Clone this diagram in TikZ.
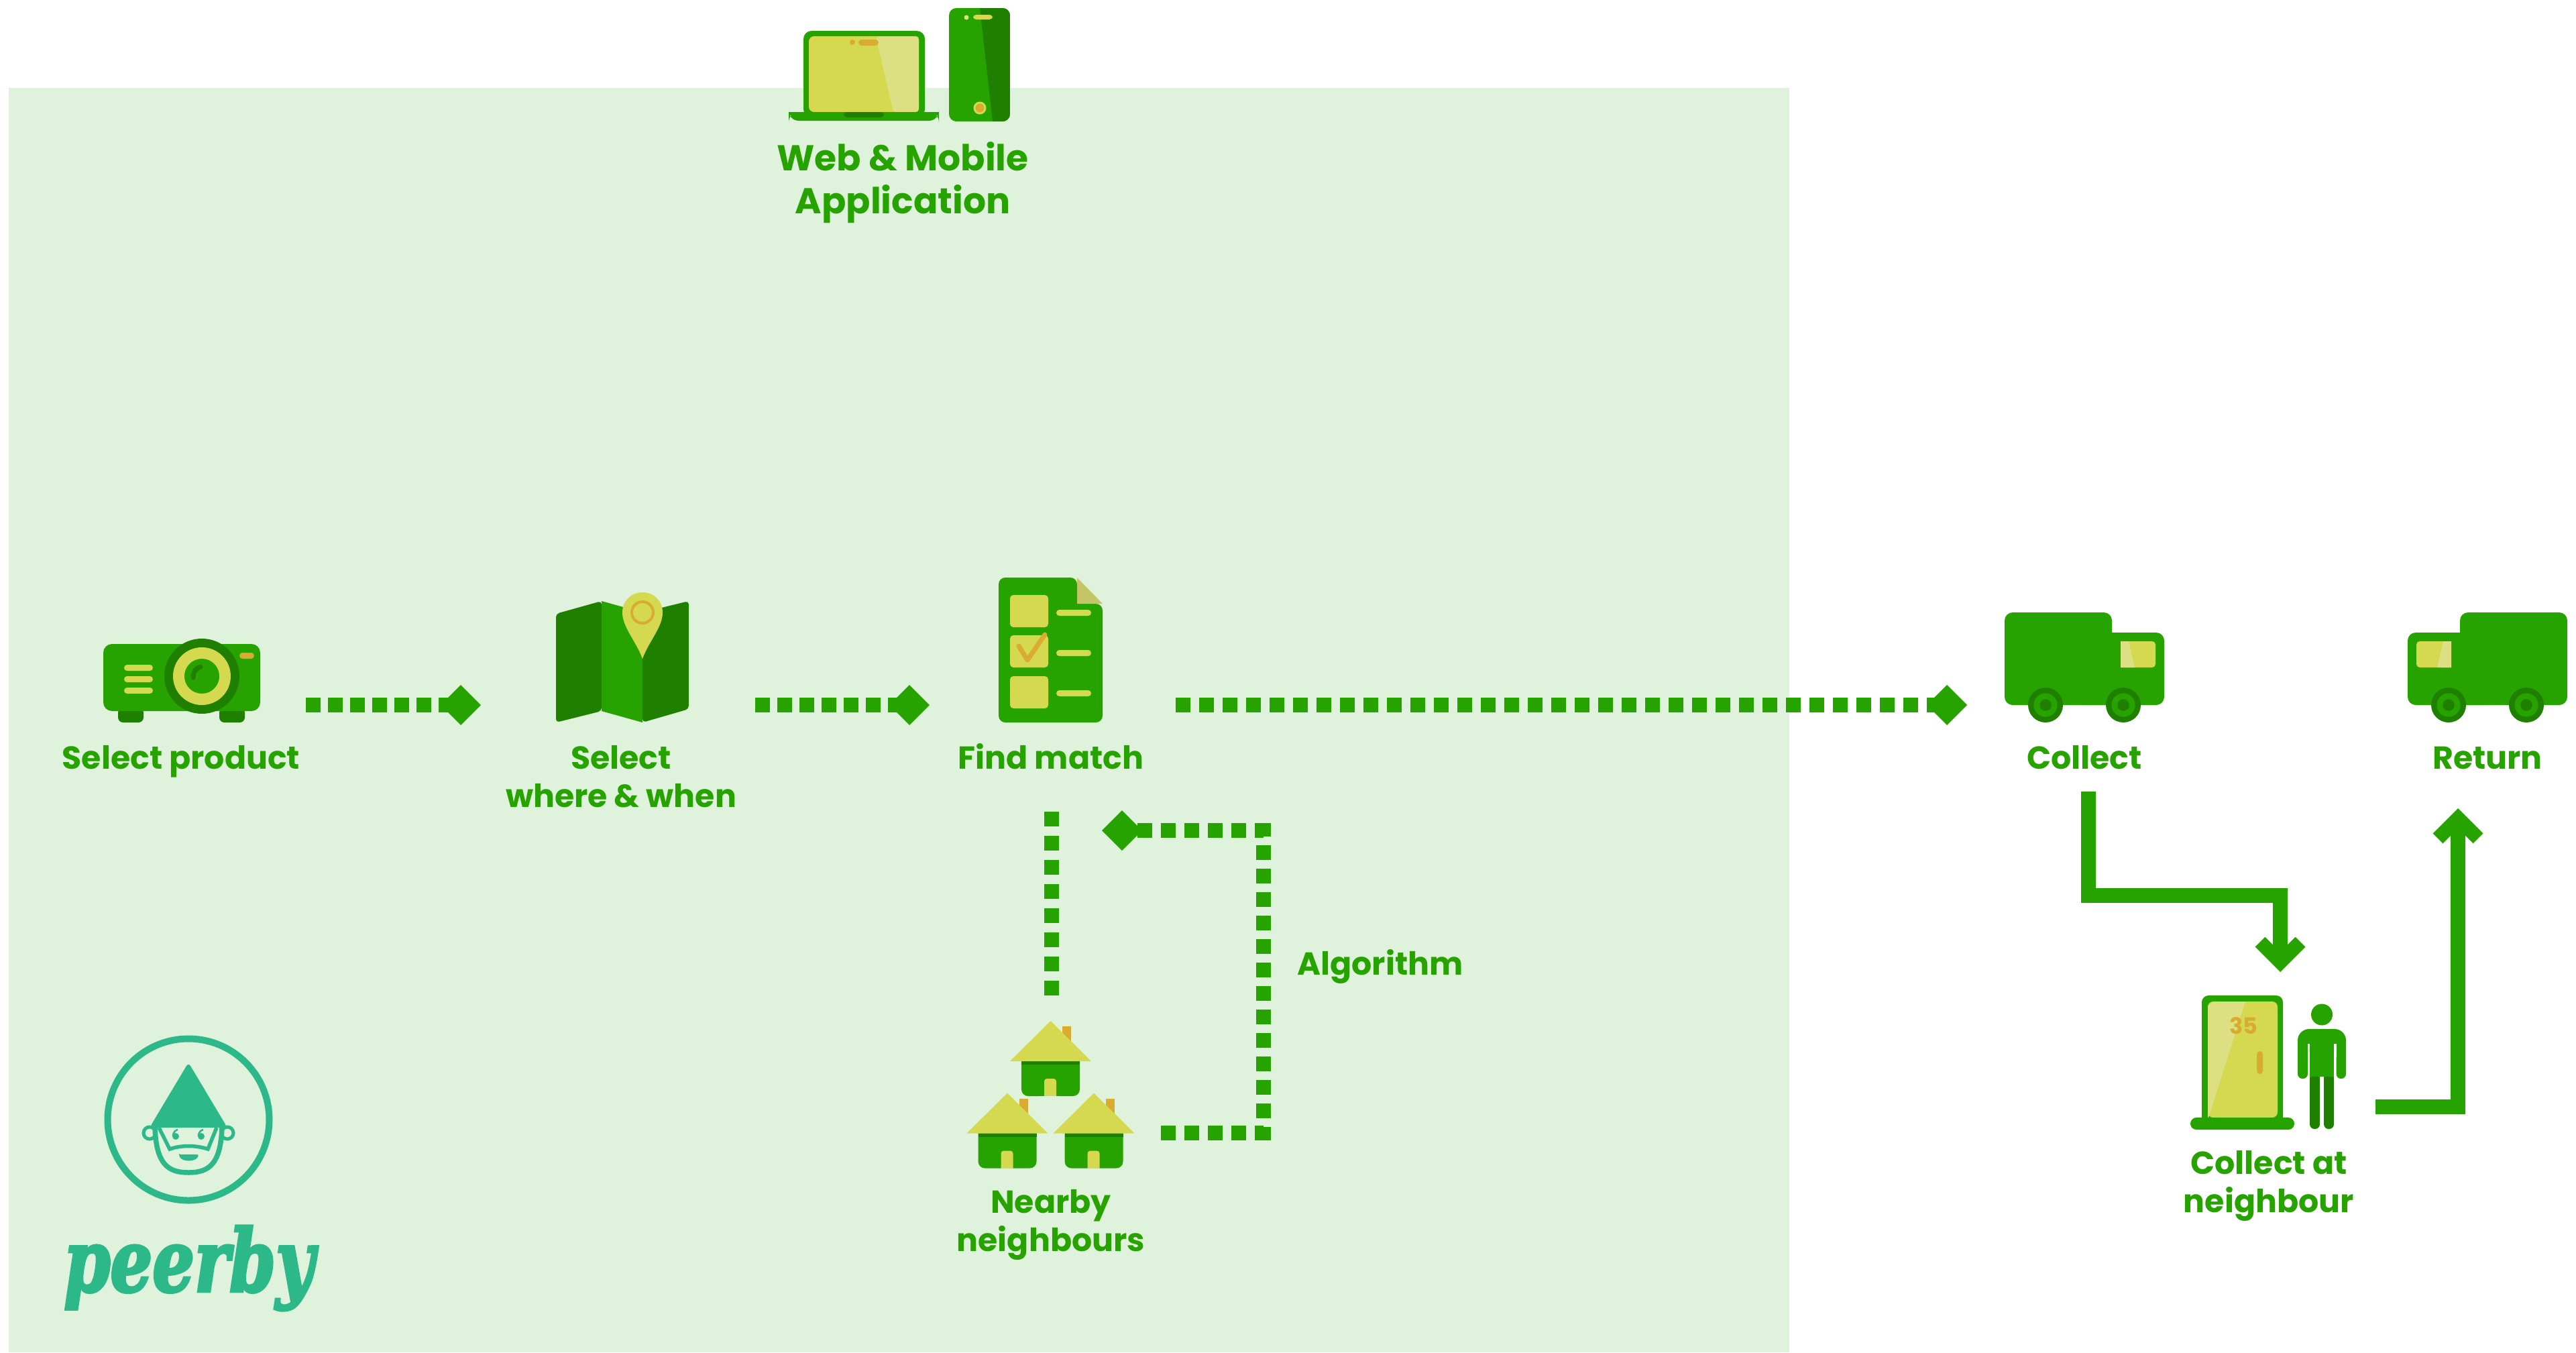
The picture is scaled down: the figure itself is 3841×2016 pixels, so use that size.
\documentclass[tikz,border=0pt]{standalone}
\usepackage{fontspec}
\setmainfont{Poppins}
\newfontfamily\logofont{DejaVu Serif}[FakeBold=3.5]
\usetikzlibrary{arrows.meta}
\definecolor{peergreen}{HTML}{27A300}
\definecolor{peerdark}{HTML}{1F8000}
\definecolor{peeryellow}{HTML}{D4D94F}
\definecolor{peerpale}{HTML}{DDE082}
\definecolor{peerfold}{HTML}{C4C566}
\definecolor{peerorange}{HTML}{D9AB30}
\definecolor{peerteal}{HTML}{2DB88A}
\definecolor{peerbg}{HTML}{DFF2DB}
\tikzset{
    lbl/.style = {text=peergreen,anchor=base,align=center,inner sep=0,font=\bfseries\fontsize{27}{32.4}\selectfont},
    biglbl/.style = {lbl,font=\bfseries\fontsize{30.5}{36}\selectfont},
    dotline/.style = {peergreen,line width=0.44cm,dash pattern=on 0.44cm off 0.22cm},
    dotarrow/.style = {dotline,-{Diamond[length=1.2cm,width=1.2cm]}},
    solidarrow/.style = {peergreen,line width=0.43cm,miter limit=4,-{Straight Barb[length=0.6cm,width=1.2cm,line width=0.42cm]}},
    bar/.style = {rounded corners=0.09cm}
}

\begin{document}
\begin{tikzpicture}[x=0.02cm,y=-0.02cm]
    \useasboundingbox (0,0) rectangle (3841,2016);
    \fill[peerbg] (13,131) rectangle (2668,2016);
    % Laptop
    \fill[peergreen,rounded corners=0.24cm] (1198,46) rectangle (1379,175);
    \fill[peeryellow,rounded corners=0.16cm] (1206,54) -- (1370,54) -- (1370,167) -- (1206,167) -- cycle;
    \fill[peerpale,bar] (1306,54) -- (1370,54) -- (1370,167) -- (1332,167) -- cycle;
    \fill[peergreen,rounded corners=0.3cm] (1176,167) -- (1176,180) -- (1400,180) -- (1400,167) -- cycle;
    \fill[peergreen] (1176,167) rectangle (1400,172);
    \fill[peerdark,rounded corners=0.1cm] (1258,167) -- (1258,175) -- (1318,175) -- (1318,167) -- cycle;
    \fill[peerorange] (1271,63) circle (4);
    \fill[peerorange,bar] (1280,59) rectangle (1310,68);
    % Phone
    \begin{scope}
        \clip[rounded corners=0.22cm] (1415,12) rectangle (1506,181);
        \fill[peergreen] (1415,12) rectangle (1506,181);
        \fill[peerdark] (1461,12) -- (1506,12) -- (1506,181) -- (1480,181) -- cycle;
    \end{scope}
    \fill[peerpale] (1441,26) circle (3.5);
    \fill[peeryellow,bar] (1451,22) rectangle (1480,29);
    \fill[peeryellow] (1461,161) circle (9.5);
    \fill[peerorange] (1461,161) circle (6.5);
    % Projector
    \foreach \footx in {176,327}
        \fill[peerdark,rounded corners=0.15cm] (\footx,1055) rectangle (\footx+38,1077);
    \fill[peergreen,rounded corners=0.26cm] (154,960) rectangle (388,1060);
    \foreach \bary in {991,1008,1025}
        \fill[peeryellow,bar] (185,\bary) rectangle (228,\bary+9);
    \fill[peerorange,bar] (357,973) rectangle (379,982);
    \fill[peerdark] (301,1008) circle (56);
    \fill[peeryellow] (301,1008) circle (43);
    \fill[peergreen] (301,1008) circle (26);
    \draw[peerdark,line width=0.14cm,line cap=round] (288,1010) .. controls (288,1002) and (292,996) .. (299,994);
    % Map
    \fill[peerdark,rounded corners=0.1cm] (829,915) -- (897,896) -- (897,1060) -- (829,1077) -- cycle;
    \fill[peerdark,rounded corners=0.1cm] (958,913) -- (1027,896) -- (1027,1057) -- (958,1077) -- cycle;
    \fill[peergreen] (897,896) -- (958,913) -- (958,1077) -- (897,1060) -- cycle;
    \fill[peeryellow] (958,883) .. controls (975,883) and (988,896) .. (988,913) .. controls (988,935) and (968,955) .. (958,982) .. controls (948,955) and (928,935) .. (928,913) .. controls (928,896) and (941,883) .. cycle;
    \draw[peerorange,line width=0.08cm] (958,913) circle (16);
    % Checklist
    \fill[peergreen,rounded corners=0.2cm] (1489,861) -- (1606,861) -- (1606,900) -- (1644,900) -- (1644,1077) -- (1489,1077) -- cycle;
    \fill[peerfold] (1606,861) -- (1644,900) -- (1606,900) -- cycle;
    \foreach \boxy in {887,947,1008}
        \fill[peeryellow,rounded corners=0.1cm] (1506,\boxy) rectangle (1563,\boxy+48);
    \foreach \bary in {909,969,1029}
        \fill[peeryellow,bar] (1575,\bary) rectangle (1627,\bary+9);
    \draw[peerorange,line width=0.14cm,line cap=round,line join=round] (1519,963) -- (1532,984) -- (1558,946);
    % Houses
    \foreach \hx/\hy in {0/0,-64.5/107.5,64.5/107.5}
    {
        \begin{scope}[shift={(\hx,\hy)}]
            \fill[peerorange] (1584,1530) rectangle (1597,1555);
            \fill[peergreen,rounded corners=0.2cm] (1523,1570) rectangle (1610,1634);
            \fill[peerdark] (1523,1582) rectangle (1610,1587);
            \fill[peeryellow,rounded corners=0.08cm] (1557,1640) -- (1557,1608) -- (1575,1608) -- (1575,1640) -- cycle;
            \fill[peerbg] (1550,1634) rectangle (1580,1642);
            \fill[peeryellow] (1566.5,1522) -- (1627,1582) -- (1506,1582) -- cycle;
        \end{scope}
    }
    % Trucks
    \newcommand\truck{
        \fill[peergreen,rounded corners=0.24cm] (2989,913) rectangle (3149,1051);
        \fill[peergreen,rounded corners=0.24cm] (3100,943) rectangle (3227,1051);
        \fill[peeryellow,rounded corners=0.1cm] (3150,956) -- (3214,956) -- (3214,995) -- (3150,995) -- cycle;
        \fill[peergreen] (3145,950) rectangle (3162,1000);
        \fill[peerpale] (3162,956) -- (3174,956) -- (3183,995) -- (3162,995) -- cycle;
        \foreach \wheelx in {3050,3166} {
            \fill[peerdark] (\wheelx,1051) circle (26);
            \fill[peergreen] (\wheelx,1051) circle (17.6);
            \fill[peerdark] (\wheelx,1051) circle (8.8);
        }
    }
    \truck
    \begin{scope}[shift={(6817,0)},xscale=-1]
        \truck
    \end{scope}
    % Door
    \fill[peergreen,rounded corners=0.2cm] (3283,1484) rectangle (3404,1680);
    \fill[peeryellow,rounded corners=0.16cm] (3292,1493) -- (3396,1493) -- (3396,1666) -- (3292,1666) -- cycle;
    \fill[peerpale] (3292,1500) -- (3300,1493) -- (3348,1493) -- (3293,1666) -- (3292,1666) -- cycle;
    \fill[peergreen,rounded corners=0.18cm] (3266,1666) rectangle (3421,1684);
    \fill[peerorange,bar] (3365,1567) rectangle (3374,1601);
    \node[lbl,text=peerorange,font=\bfseries\fontsize{19}{19}\selectfont] (doorno) at (3345,1541) {35};
    % Person
    \fill[peergreen] (3462,1512.5) circle (16);
    \fill[peerdark,rounded corners=0.14cm] (3444,1600) rectangle (3459,1683);
    \fill[peerdark,rounded corners=0.14cm] (3465,1600) rectangle (3480,1683);
    \fill[peergreen] (3444,1550) rectangle (3480,1605);
    \fill[peergreen,rounded corners=0.34cm] (3426,1534) rectangle (3498,1590);
    \fill[white] (3441,1556) rectangle (3444,1600);
    \fill[white] (3480,1556) rectangle (3483.5,1600);
    \fill[peergreen,rounded corners=0.14cm] (3426,1570) rectangle (3441,1608);
    \fill[peergreen,rounded corners=0.14cm] (3483.5,1570) rectangle (3498,1608);
    % Logo
    \draw[peerteal,line width=0.2cm] (281,1669) circle (120.5);
    \draw[peerteal,line width=0.1cm] (223,1689) circle (9);
    \draw[peerteal,line width=0.1cm] (339,1689) circle (9);
    \fill[peerbg] (231,1678) rectangle (331,1720);
    \fill[peerteal,rounded corners=0.12cm] (281,1584) -- (339,1681) -- (223,1681) -- cycle;
    \draw[peerteal,line width=0.15cm] (231,1681) .. controls (233,1735) and (250,1748) .. (281,1748) .. controls (312,1748) and (329,1735) .. (331,1681);
    \draw[peerteal,line width=0.11cm] (237,1681) -- (253,1713) .. controls (270,1707) and (292,1707) .. (310,1713) -- (323,1681);
    \foreach \eyex in {262,300} {
        \fill[peerteal] (\eyex,1694) circle (5);
        \draw[peerteal,line width=0.05cm] (\eyex-4,1694) .. controls (\eyex-4,1687) and (\eyex,1685) .. (\eyex+3,1684);
    }
    \fill[peerteal,rounded corners=0.04cm] (267,1721) -- (296,1721) .. controls (294,1733) and (269,1733) .. cycle;
    \node[text=peerteal,anchor=base,inner sep=0,xscale=0.77,font=\logofont\bfseries\itshape\fontsize{73}{73}\selectfont] (logo) at (282,1925) {peerby};
    % Labels
    \node[biglbl] (web) at (1346,318) {Web \& Mobile\\Application};
    \node[lbl] (product) at (270,1146) {Select product};
    \node[lbl] (where) at (926,1203) {Select\\where \& when};
    \node[lbl] (match) at (1567,1146) {Find match};
    \node[lbl] (collect) at (3108,1146) {Collect};
    \node[lbl] (return) at (3709,1146) {Return};
    \node[lbl] (nearby) at (1567,1865) {Nearby\\neighbours};
    \node[lbl] (algo) at (2058,1453) {Algorithm};
    \node[lbl] (neighbour) at (3383,1807) {Collect at\\neighbour};
    % Connector ends
    \coordinate (productout) at (456,1051);
    \coordinate (wherein) at (717,1051);
    \coordinate (whereout) at (1126,1051);
    \coordinate (matchin) at (1386,1051);
    \coordinate (matchout) at (1753,1051);
    \coordinate (collectin) at (2933,1051);
    \coordinate (matchdown) at (1567.5,1210);
    \coordinate (nearbyup) at (1567.5,1484);
    \coordinate (nearbyout) at (1731,1689);
    \coordinate (algocorner) at (1884,1689);
    \coordinate (algotop) at (1884,1238);
    \coordinate (matchback) at (1643,1238);
    \coordinate (collectout) at (3114,1180);
    \coordinate (bendone) at (3114,1335);
    \coordinate (bendtwo) at (3400,1335);
    \coordinate (doorin) at (3400,1449);
    \coordinate (doorout) at (3542,1650);
    \coordinate (bendthree) at (3665,1650);
    \coordinate (returnin) at (3665,1205);
    % Connectors
    \foreach \src/\dest in {productout/wherein,whereout/matchin}
        \draw[dotarrow] (\src) to (\dest);
    \draw[dotarrow,dash pattern=on 0.44cm off 0.26cm] (matchout) to (collectin);
    \draw[dotline,dash pattern=on 0.44cm off 0.28cm] (matchdown) to (nearbyup);
    \draw[dotarrow,dash pattern=on 0.44cm off 0.26cm] (nearbyout) -- (algocorner) -- (algotop) -- (matchback);
    \draw[solidarrow] (collectout) -- (bendone) -- (bendtwo) -- (doorin);
    \draw[solidarrow] (doorout) -- (bendthree) -- (returnin);
\end{tikzpicture}
\end{document}
